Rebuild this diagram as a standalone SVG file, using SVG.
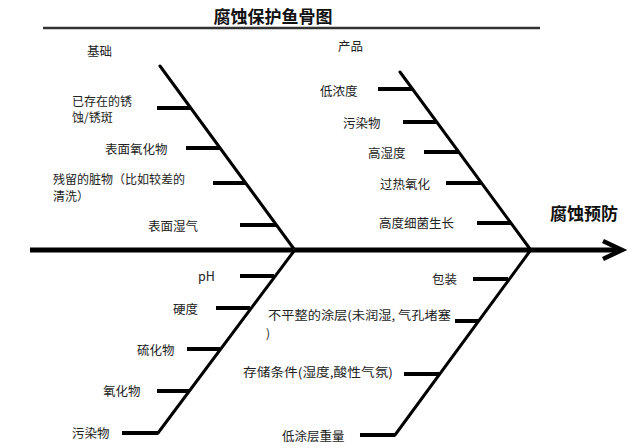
<svg xmlns="http://www.w3.org/2000/svg" width="640" height="448" viewBox="0 0 640 448">
<style>
text{font-family:"Noto Sans CJK SC","Liberation Serif",serif;fill:#222;font-size:12.5px;dominant-baseline:central}
.sm{font-size:12px}
.title{font-size:17px;font-weight:bold;fill:#111}
.bone{stroke:#000;stroke-width:3;fill:none;stroke-linecap:round}
.rib{stroke:#000;stroke-width:4;fill:none}
.spine{stroke:#000;stroke-width:5;fill:none}
</style>
<rect width="640" height="448" fill="#fff"/>
<g id="title">
<text class="title" x="273" y="15" text-anchor="middle">腐蚀保护鱼骨图</text>
<line x1="43" y1="28" x2="540" y2="28" stroke="#333" stroke-width="2.5"/>
</g>
<g id="connectors">
<line class="spine" x1="30" y1="250" x2="620" y2="250"/>
<polyline points="603,241 622,250 603,259" fill="none" stroke="#000" stroke-width="4.5"/>
<line class="bone" x1="160" y1="66" x2="294" y2="249"/>
<line class="bone" x1="400" y1="72" x2="530" y2="249"/>
<line class="bone" x1="294" y1="251" x2="158" y2="433"/>
<line class="bone" x1="530" y1="251" x2="395" y2="435"/>
</g>
<g id="effect"><text class="title" x="550" y="212">腐蚀预防</text></g>
<g id="cat-base"><text x="87" y="50">基础</text></g>
<g id="cat-product"><text x="338" y="45">产品</text></g>
<g id="b1"><line class="rib" x1="157" y1="108" x2="191" y2="108"/><text class="sm" x="72" y="100">已存在的锈</text><text class="sm" x="72" y="116">蚀/锈斑</text></g>
<g id="b2"><line class="rib" x1="186" y1="148" x2="220" y2="148"/><text x="105" y="148">表面氧化物</text></g>
<g id="b3"><line class="rib" x1="213" y1="183" x2="246" y2="183"/><text class="sm" x="53" y="178">残留的脏物（比如较差的</text><text class="sm" x="53" y="195">清洗）</text></g>
<g id="b4"><line class="rib" x1="240" y1="225" x2="276" y2="225"/><text x="148" y="225">表面湿气</text></g>
<g id="p1"><line class="rib" x1="378" y1="89" x2="413" y2="89"/><text x="320" y="90">低浓度</text></g>
<g id="p2"><line class="rib" x1="403" y1="122" x2="437" y2="122"/><text x="343" y="122">污染物</text></g>
<g id="p3"><line class="rib" x1="424" y1="152" x2="459" y2="152"/><text x="368" y="152">高湿度</text></g>
<g id="p4"><line class="rib" x1="446" y1="183" x2="482" y2="183"/><text x="380" y="183">过热氧化</text></g>
<g id="p5"><line class="rib" x1="477" y1="223" x2="511" y2="223"/><text x="379" y="222">高度细菌生长</text></g>
<g id="w1"><line class="rib" x1="240" y1="276" x2="274" y2="276"/><text x="198" y="275">pH</text></g>
<g id="w2"><line class="rib" x1="216" y1="308" x2="250" y2="308"/><text x="173" y="308">硬度</text></g>
<g id="w3"><line class="rib" x1="187" y1="349" x2="220" y2="349"/><text x="137" y="349">硫化物</text></g>
<g id="w4"><line class="rib" x1="157" y1="391" x2="189" y2="391"/><text x="103" y="390">氧化物</text></g>
<g id="w5"><line class="rib" x1="122" y1="433" x2="158" y2="433"/><text x="72" y="432">污染物</text></g>
<g id="c1"><line class="rib" x1="473" y1="279" x2="508" y2="279"/><text x="432" y="278">包装</text></g>
<g id="c2"><line class="rib" x1="455" y1="321" x2="478" y2="321"/><text class="sm" x="268" y="314" textLength="183" lengthAdjust="spacingAndGlyphs">不平整的涂层(未润湿, 气孔堵塞</text><text class="sm" x="266" y="332">)</text></g>
<g id="c3"><line class="rib" x1="404" y1="374" x2="439" y2="374"/><text x="243" y="371" textLength="150" lengthAdjust="spacingAndGlyphs">存储条件(湿度,酸性气氛)</text></g>
<g id="c4"><line class="rib" x1="360" y1="435" x2="395" y2="435"/><text x="282" y="435">低涂层重量</text></g>
</svg>
